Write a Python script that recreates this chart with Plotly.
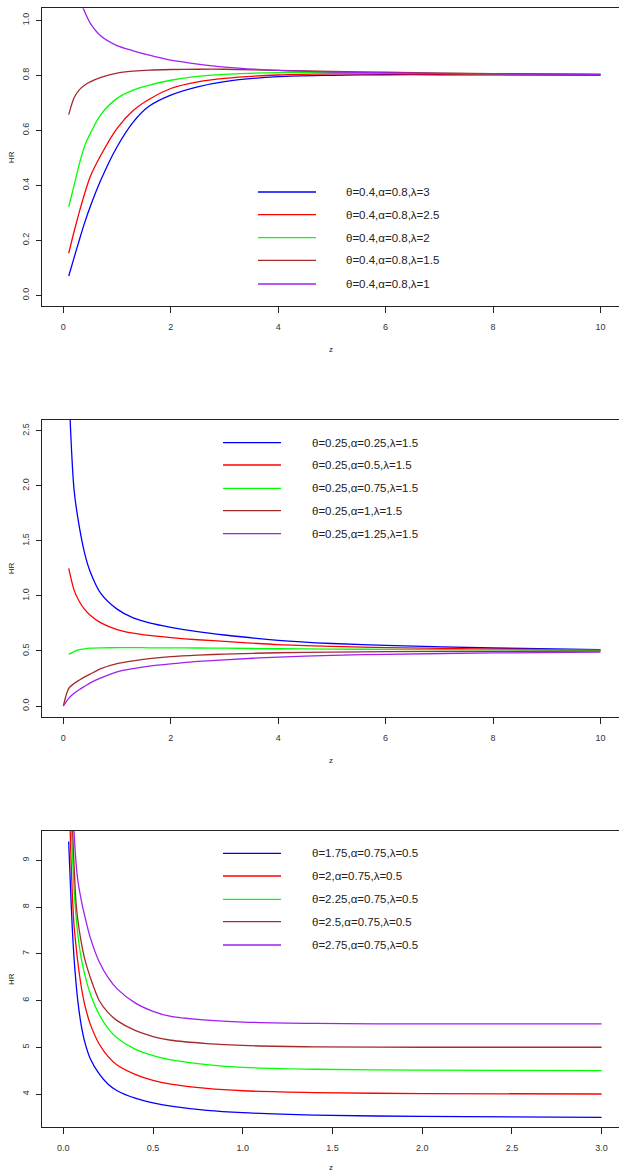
import plotly.graph_objects as go

W, H = 619, 1173

# ---- panel 1: theta=0.4, alpha=0.8, lambda varies ----
z1 = [0.1, 0.2, 0.3, 0.4, 0.5, 0.7, 1.0, 1.3, 1.6, 2.0, 2.5, 3.0, 4.0, 5.0, 6.0, 7.0, 8.0, 10.0]
hr1_lam3 = [0.070, 0.137, 0.203, 0.266, 0.322, 0.420, 0.540, 0.630, 0.688, 0.728, 0.758, 0.777, 0.795, 0.800, 0.802, 0.802, 0.802, 0.801]
hr1_lam25 = [0.153, 0.232, 0.305, 0.372, 0.431, 0.510, 0.607, 0.672, 0.713, 0.752, 0.776, 0.789, 0.801, 0.805, 0.805, 0.804, 0.803, 0.802]
hr1_lam2 = [0.322, 0.400, 0.480, 0.545, 0.588, 0.658, 0.716, 0.746, 0.764, 0.782, 0.796, 0.803, 0.810, 0.810, 0.808, 0.807, 0.805, 0.803]
hr1_lam15 = [0.657, 0.718, 0.748, 0.765, 0.776, 0.792, 0.808, 0.815, 0.819, 0.821, 0.822, 0.822, 0.818, 0.814, 0.811, 0.808, 0.806, 0.803]
hr1_lam1 = [1.350, 1.170, 1.080, 1.030, 0.990, 0.943, 0.908, 0.889, 0.873, 0.855, 0.841, 0.830, 0.818, 0.812, 0.809, 0.807, 0.805, 0.803]
labels1 = ["θ=0.4,α=0.8,λ=3", "θ=0.4,α=0.8,λ=2.5", "θ=0.4,α=0.8,λ=2",
           "θ=0.4,α=0.8,λ=1.5", "θ=0.4,α=0.8,λ=1"]

# ---- panel 2: theta=0.25, lambda=1.5, alpha varies ----
z2 = [0.0, 0.1, 0.2, 0.3, 0.4, 0.5, 0.7, 1.0, 1.3, 1.6, 2.0, 2.5, 3.0, 4.0, 5.0, 6.0, 8.0, 10.0]
hr2_a025 = [None, 2.90, 1.96, 1.62, 1.38, 1.22, 1.02, 0.88, 0.80, 0.755, 0.715, 0.675, 0.645, 0.597, 0.568, 0.550, 0.527, 0.512]
hr2_a05 = [None, 1.25, 1.053, 0.947, 0.875, 0.825, 0.755, 0.695, 0.662, 0.641, 0.621, 0.602, 0.587, 0.558, 0.542, 0.531, 0.517, 0.507]
hr2_a075 = [None, 0.469, 0.495, 0.512, 0.520, 0.525, 0.528, 0.530, 0.530, 0.529, 0.528, 0.527, 0.525, 0.520, 0.517, 0.515, 0.510, 0.505]
hr2_a1 = [0.0, 0.160, 0.205, 0.236, 0.265, 0.290, 0.340, 0.385, 0.410, 0.430, 0.448, 0.462, 0.472, 0.484, 0.490, 0.494, 0.497, 0.498]
hr2_a125 = [0.0, 0.070, 0.115, 0.150, 0.180, 0.210, 0.255, 0.310, 0.340, 0.362, 0.383, 0.405, 0.420, 0.445, 0.460, 0.470, 0.482, 0.490]
labels2 = ["θ=0.25,α=0.25,λ=1.5", "θ=0.25,α=0.5,λ=1.5", "θ=0.25,α=0.75,λ=1.5",
           "θ=0.25,α=1,λ=1.5", "θ=0.25,α=1.25,λ=1.5"]

# ---- panel 3: alpha=0.75, lambda=0.5, theta varies ----
z3 = [0.03, 0.04, 0.05, 0.06, 0.07, 0.08, 0.1, 0.12, 0.15, 0.2, 0.25, 0.3, 0.4, 0.5, 0.6, 0.8, 1.0, 1.4, 2.0, 3.0]
hr3_t175 = [9.40, 8.45, 7.55, 6.90, 6.42, 6.02, 5.47, 5.11, 4.76, 4.43, 4.21, 4.07, 3.91, 3.81, 3.74, 3.65, 3.60, 3.55, 3.52, 3.50]
hr3_t2 = [11.0, 9.40, 8.30, 7.60, 7.20, 6.85, 6.30, 5.90, 5.50, 5.07, 4.80, 4.62, 4.42, 4.29, 4.21, 4.12, 4.07, 4.03, 4.01, 4.00]
hr3_t225 = [12.0, 10.3, 9.20, 8.40, 7.85, 7.45, 6.90, 6.55, 6.15, 5.70, 5.40, 5.20, 4.96, 4.82, 4.73, 4.63, 4.57, 4.53, 4.51, 4.50]
hr3_t25 = [13.0, 11.0, 9.80, 8.90, 8.15, 7.75, 7.25, 6.88, 6.50, 6.00, 5.74, 5.57, 5.36, 5.23, 5.15, 5.08, 5.04, 5.01, 5.00, 5.00]
hr3_t275 = [14.0, 12.0, 10.6, 9.60, 9.00, 8.60, 8.15, 7.80, 7.35, 6.83, 6.49, 6.25, 5.95, 5.77, 5.66, 5.58, 5.54, 5.51, 5.50, 5.50]
labels3 = ["θ=1.75,α=0.75,λ=0.5", "θ=2,α=0.75,λ=0.5", "θ=2.25,α=0.75,λ=0.5",
           "θ=2.5,α=0.75,λ=0.5", "θ=2.75,α=0.75,λ=0.5"]

colors = ["#0000FF", "#FF0000", "#00FF00", "#A52A2A", "#A020F0"]

x_ticks12 = [0, 2, 4, 6, 8, 10]
y_ticks1 = [0.0, 0.2, 0.4, 0.6, 0.8, 1.0]
y_ticks2 = [0.0, 0.5, 1.0, 1.5, 2.0, 2.5]
x_ticks3 = [0.0, 0.5, 1.0, 1.5, 2.0, 2.5, 3.0]
y_ticks3 = [4, 5, 6, 7, 8, 9]

panels = [
    dict(z=z1, series=[hr1_lam3, hr1_lam25, hr1_lam2, hr1_lam15, hr1_lam1], labels=labels1,
         xticks=x_ticks12, xfmt="{:g}", yticks=y_ticks1, yfmt="{:.1f}",
         top=8.3, bottom=306.0, xrange=[-0.392, 10.345], yrange=[-0.0389, 1.0436],
         leg_x0=258, leg_x1=316, leg_tx=344, leg_rows=[192, 214.7, 237.7, 260.3, 284],
         ztitle_y=349),
    dict(z=z2, series=[hr2_a025, hr2_a05, hr2_a075, hr2_a1, hr2_a125], labels=labels2,
         xticks=x_ticks12, xfmt="{:g}", yticks=y_ticks2, yfmt="{:.1f}",
         top=420.0, bottom=716.7, xrange=[-0.392, 10.345], yrange=[-0.097, 2.598],
         leg_x0=223, leg_x1=281, leg_tx=310, leg_rows=[442.7, 465, 488.3, 510.7, 533.7],
         ztitle_y=760),
    dict(z=z3, series=[hr3_t175, hr3_t2, hr3_t225, hr3_t25, hr3_t275], labels=labels3,
         xticks=x_ticks3, xfmt="{:.1f}", yticks=y_ticks3, yfmt="{:g}",
         top=830.7, bottom=1127.3, xrange=[-0.117, 3.097], yrange=[3.288, 9.633],
         leg_x0=223, leg_x1=281, leg_tx=310, leg_rows=[853.3, 876, 899.3, 921.7, 945],
         ztitle_y=1167),
]

LEFT = 42.3
TICK_FONT = dict(family="Liberation Sans, Arial, sans-serif", size=9, color="#333333")
LEG_FONT = dict(family="Liberation Sans, Arial, sans-serif", size=11.5, color="#222222")
LAB_FONT = dict(family="Liberation Sans, Arial, sans-serif", size=8, color="#222222")


def py(v):
    """pixel row -> paper fraction"""
    return 1 - v / H


def px(v):
    return v / W


fig = go.Figure()
layout = dict(width=W, height=H, margin=dict(l=0, r=0, t=0, b=0),
              paper_bgcolor="white", plot_bgcolor="white", showlegend=False)
shapes, annotations = [], []

for i, p in enumerate(panels, start=1):
    xa = "x" if i == 1 else f"x{i}"
    ya = "y" if i == 1 else f"y{i}"
    for ys, col in zip(p["series"], colors):
        fig.add_trace(go.Scatter(x=p["z"], y=ys, mode="lines", xaxis=xa, yaxis=ya,
                                 line=dict(color=col, width=1.3, shape="spline", smoothing=0.8),
                                 connectgaps=False, hoverinfo="skip"))
    layout[f"xaxis{'' if i == 1 else i}"] = dict(
        domain=[px(LEFT), 1.0], anchor=ya, range=p["xrange"],
        tickmode="array", tickvals=p["xticks"], ticktext=[p["xfmt"].format(t) for t in p["xticks"]],
        ticks="outside", ticklen=6, tickwidth=1, tickcolor="#222222",
        showline=True, linecolor="#222222", linewidth=1, mirror=True,
        showgrid=False, zeroline=False, tickfont=TICK_FONT, ticklabelstandoff=6)
    layout[f"yaxis{'' if i == 1 else i}"] = dict(
        domain=[py(p["bottom"]), py(p["top"])], anchor=xa, range=p["yrange"],
        tickmode="array", tickvals=p["yticks"], ticktext=[p["yfmt"].format(t) for t in p["yticks"]],
        ticks="outside", ticklen=5, tickwidth=1, tickcolor="#222222", tickangle=-90,
        showline=True, linecolor="#222222", linewidth=1, mirror=False,
        showgrid=False, zeroline=False, tickfont=TICK_FONT, ticklabelstandoff=4)

    # axis titles
    annotations.append(dict(text="HR", x=px(11), y=py((p["top"] + p["bottom"]) / 2),
                            xref="paper", yref="paper", showarrow=False, textangle=-90,
                            xanchor="center", yanchor="middle", font=LAB_FONT))
    annotations.append(dict(text="z", x=px(331), y=py(p["ztitle_y"]),
                            xref="paper", yref="paper", showarrow=False,
                            xanchor="center", yanchor="middle", font=LAB_FONT))

    # legend key
    for row, col, lab in zip(p["leg_rows"], colors, p["labels"]):
        shapes.append(dict(type="line", xref="paper", yref="paper",
                           x0=px(p["leg_x0"]), x1=px(p["leg_x1"]), y0=py(row), y1=py(row),
                           line=dict(color=col, width=1.3)))
        annotations.append(dict(text=lab, x=px(p["leg_tx"]), y=py(row), xref="paper", yref="paper",
                                showarrow=False, xanchor="left", yanchor="middle", font=LEG_FONT))

layout["shapes"] = shapes
layout["annotations"] = annotations
fig.update_layout(**layout)
fig.write_html("out.html")
